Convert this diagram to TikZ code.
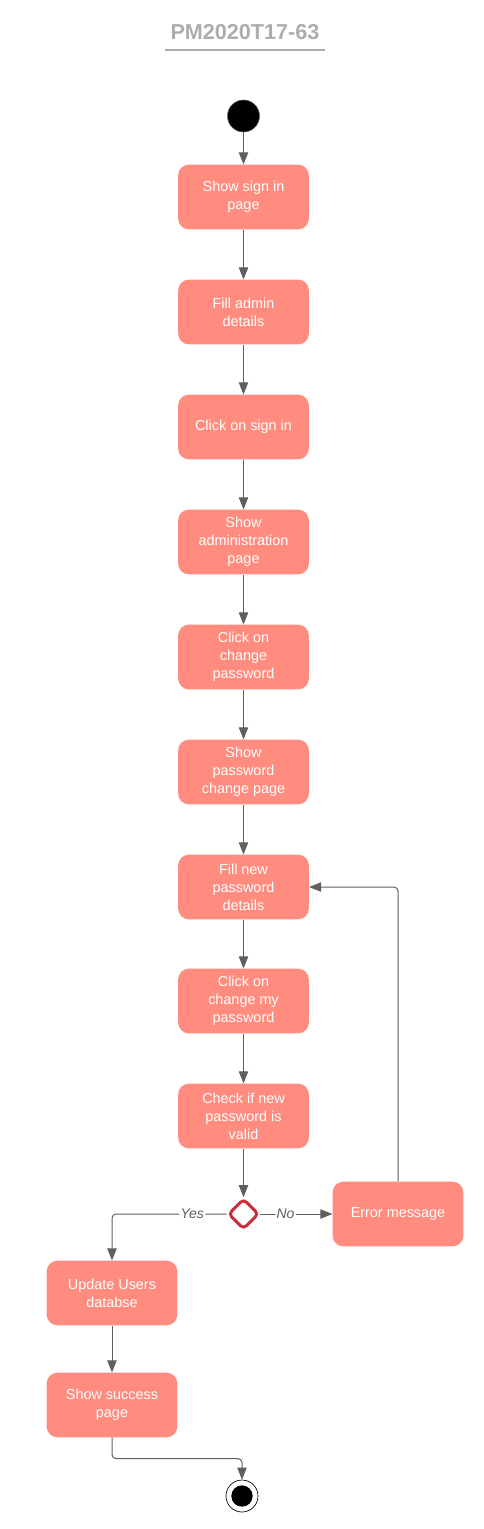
\documentclass[tikz,border=0pt]{standalone}
\usepackage{fontspec}
\setmainfont{Liberation Sans}
\usetikzlibrary{arrows.meta,shapes.geometric}
\definecolor{actred}{HTML}{FF8C7E}
\definecolor{flowgray}{HTML}{5F5F5F}
\definecolor{titlegray}{HTML}{ADADAD}
\definecolor{decred}{HTML}{C92D39}

\begin{document}
\begin{tikzpicture}[x=0.75pt,y=-0.75pt,
  act/.style={fill=actred, rounded corners=8pt, minimum width=98pt, minimum height=48.5pt,
    text=white, align=center, font=\fontsize{10.8}{13.5}\selectfont},
  flow/.style={draw=flowgray, line width=0.75pt, rounded corners=3pt,
    -{Triangle[length=9pt,width=7pt]}},
  guard/.style={fill=white, inner sep=1pt, text=flowgray, font=\fontsize{10.5}{12}\selectfont\itshape}]

  \useasboundingbox (0,0) rectangle (483,1529);

  \newcommand\CX{243.5}

  %% title
  \node[text=titlegray, font=\fontsize{16.2}{18}\selectfont\bfseries] (title) at (245,32) {PM2020T17-63};
  \draw[titlegray, line width=0.9pt] (165,50) -- (325,50);

  %% start and end
  \node[circle, fill=black, draw=flowgray, line width=0.4pt, minimum size=24pt, inner sep=0pt] (start) at (\CX,116) {};
  \node[circle, draw=black, line width=0.5pt, fill=white, minimum size=24pt, inner sep=0pt] (stop) at (242,1496) {};
  \node[circle, fill=black, minimum size=16pt, inner sep=0pt] (stopdot) at (stop.center) {};

  %% main column
  \node[act] (signin)   at (\CX, 197) {Show sign in\\page};
  \node[act] (filladm)  at (\CX, 312) {Fill admin\\details};
  \node[act] (clicksig) at (\CX, 427) {Click on sign in};
  \node[act] (adminpg)  at (\CX, 542) {Show\\administration\\page};
  \node[act] (clickchg) at (\CX, 657) {Click on\\change\\password};
  \node[act] (chgpage)  at (\CX, 772) {Show\\password\\change page};
  \node[act] (fillnew)  at (\CX, 887) {Fill new\\password\\details};
  \node[act] (clickmy)  at (\CX,1001) {Click on\\change my\\password};
  \node[act] (check)    at (\CX,1116) {Check if new\\password is\\valid};

  %% decision
  \node[diamond, draw=decred, line width=2.2pt, rounded corners=3pt, fill=white,
    minimum width=23pt, minimum height=23pt, inner sep=0pt] (valid) at (\CX,1214) {};

  \node[act] (error)   at (398,1214) {Error message};
  \node[act] (update)  at (112,1293) {Update Users\\databse};
  \node[act] (success) at (112,1405) {Show success\\page};

  %% connectors
  \draw[flow] (start) -- (signin);
  \draw[flow] (signin) -- (filladm);
  \draw[flow] (filladm) -- (clicksig);
  \draw[flow] (clicksig) -- (adminpg);
  \draw[flow] (adminpg) -- (clickchg);
  \draw[flow] (clickchg) -- (chgpage);
  \draw[flow] (chgpage) -- (fillnew);
  \draw[flow] (fillnew) -- (clickmy);
  \draw[flow] (clickmy) -- (check);
  \draw[flow] (check) -- (valid);

  \draw[flow] (valid.west) -| node[guard, pos=0.15]{Yes} (update.north); %% valid->update
  \draw[flow] (valid.east) -- node[guard, pos=0.35]{No} (error.west); %% valid->error
  \draw[flow] (error.north) |- (fillnew.east); %% error->fillnew
  \draw[flow] (update) -- (success);
  \draw[flow] (success.south) -- ++(0,21) -| (stop.north); %% success->stop
\end{tikzpicture}
\end{document}
